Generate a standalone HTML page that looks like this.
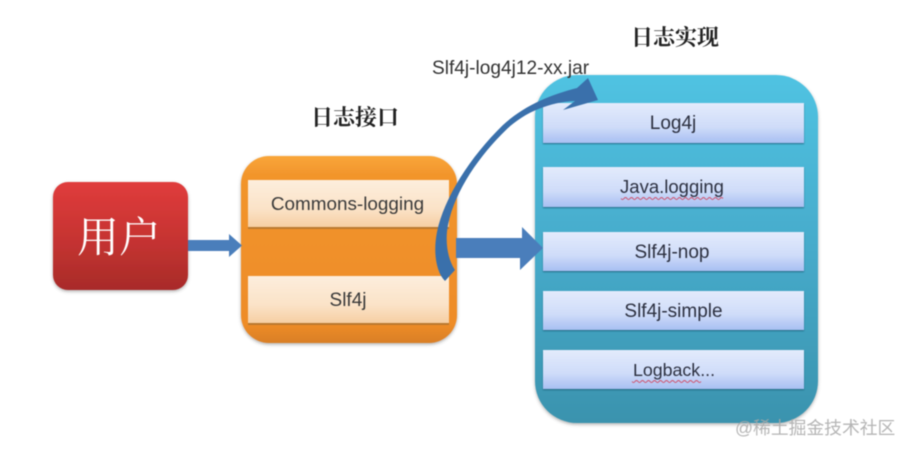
<!DOCTYPE html>
<html>
<head>
<meta charset="utf-8">
<style>
html,body{margin:0;padding:0;background:#fff}
body{width:911px;height:453px;overflow:hidden}
svg{display:block;filter:blur(.6px)}
text{font-family:"Liberation Sans","Noto Sans CJK SC",sans-serif}
text.s{font-family:"Liberation Serif","Noto Serif CJK SC",serif}
</style>
</head>
<body>
<svg width="911" height="453" viewBox="0 0 911 453" xmlns="http://www.w3.org/2000/svg">
<defs>
<linearGradient id="red" x1="0" y1="0" x2="0" y2="1"><stop offset="0" stop-color="#e03c3c"/><stop offset=".55" stop-color="#c53331"/><stop offset="1" stop-color="#a82b29"/></linearGradient>
<linearGradient id="org" x1="0" y1="0" x2="0" y2="1"><stop offset="0" stop-color="#f9a63a"/><stop offset=".1" stop-color="#f2952c"/><stop offset=".9" stop-color="#ee8c28"/><stop offset="1" stop-color="#d97f26"/></linearGradient>
<linearGradient id="teal" x1="0" y1="0" x2="0" y2="1"><stop offset="0" stop-color="#50c3e2"/><stop offset=".5" stop-color="#46abcb"/><stop offset="1" stop-color="#3a93ae"/></linearGradient>
<linearGradient id="peach" x1="0" y1="0" x2="0" y2="1"><stop offset="0" stop-color="#fdeedd"/><stop offset=".6" stop-color="#fbe3c8"/><stop offset="1" stop-color="#f6cfa3"/></linearGradient>
<linearGradient id="blue" x1="0" y1="0" x2="0" y2="1"><stop offset="0" stop-color="#e3ebfc"/><stop offset=".6" stop-color="#cfdcf9"/><stop offset="1" stop-color="#a8bff2"/></linearGradient>
<filter id="sh" x="-10%" y="-10%" width="120%" height="120%"><feDropShadow dx="0" dy="1.500" stdDeviation="1.500" flood-color="#555" flood-opacity=".45"/></filter>
<filter id="sh2" x="-5%" y="-10%" width="110%" height="125%"><feDropShadow dx="0" dy="1" stdDeviation=".7" flood-color="#1d5a73" flood-opacity=".8"/></filter>
</defs>

<!-- user box -->
<rect x="53" y="182" width="135" height="108" rx="15" fill="url(#red)" filter="url(#sh)"/>
<text class="s" x="119" y="252" font-size="42" fill="#fff" text-anchor="middle">用户</text>

<!-- interface box -->
<rect x="241" y="156" width="216" height="187" rx="28" fill="url(#org)" filter="url(#sh)"/>
<rect x="248" y="180" width="201" height="47" fill="url(#peach)"/>
<rect x="248" y="227" width="201" height="2" fill="#b9792f"/>
<rect x="248" y="276" width="201" height="47" fill="url(#peach)"/>
<rect x="248" y="323" width="201" height="2" fill="#b9792f"/>
<text x="347.500" y="210" font-size="18.900" fill="#3a3a3a" text-anchor="middle">Commons-logging</text>
<text x="348" y="306" font-size="19" fill="#3a3a3a" text-anchor="middle">Slf4j</text>

<!-- implementation box -->
<rect x="535" y="75" width="283" height="348" rx="42" fill="url(#teal)" filter="url(#sh)"/>
<g filter="url(#sh2)">
<rect x="543" y="103" width="261" height="40" fill="url(#blue)"/>
<rect x="543" y="167" width="261" height="40" fill="url(#blue)"/>
<rect x="543" y="232" width="261" height="39" fill="url(#blue)"/>
<rect x="543" y="291" width="261" height="39" fill="url(#blue)"/>
<rect x="543" y="350" width="261" height="39" fill="url(#blue)"/>
</g>
<g font-size="19" fill="#2c3040" text-anchor="middle">
<text x="673" y="129">Log4j</text>
<text x="672" y="193" font-size="18.500">Java.logging</text>
<text x="672" y="258">Slf4j-nop</text>
<text x="673.500" y="317">Slf4j-simple</text>
<text x="674" y="376" font-size="17.800">Logback...</text>
</g>
<path d="M621 198.500q1.500 2 3 0t3 0 3 0 3 0 3 0 3 0 3 0 3 0 3 0 3 0 3 0 3 0 3 0 3 0 3 0 3 0 3 0 3 0 3 0 3 0 3 0 3 0 3 0 3 0 3 0 3 0 3 0 3 0 3 0 3 0 3 0 3 0 3 0 3 0" fill="none" stroke="#d0506a" stroke-width="1"/>
<path d="M632 381.500q1.500 2 3 0t3 0 3 0 3 0 3 0 3 0 3 0 3 0 3 0 3 0 3 0 3 0 3 0 3 0 3 0 3 0 3 0 3 0 3 0 3 0 3 0 3 0 3 0" fill="none" stroke="#d0506a" stroke-width="1"/>

<!-- arrows -->
<path d="M188 240H229V234L242 245.500 229 257V251H188Z" fill="#4a7ebb"/>
<path d="M456 238H522V227L543 248 520 270V258H456Z" fill="#4a7ebb"/>
<path d="M445 281C436 272 433 252 437 232C444 198 470 157 503 125C525 105 550 95 577 88L588 78 598 100 563 110 575 101C550 102 525 112 507 129C480 155 455 190 448 225C445 240 447 258 455 270Z" fill="#3a70ab"/>

<!-- headings -->
<text class="s" x="355" y="125" font-size="22" font-weight="bold" fill="#222" text-anchor="middle">日志接口</text>
<text class="s" x="675" y="45" font-size="22" font-weight="bold" fill="#222" text-anchor="middle">日志实现</text>
<text x="432" y="74" font-size="19.100" fill="#333">Slf4j-log4j12-xx.jar</text>

<!-- watermark -->
<text x="735" y="434" font-size="17.800" fill="#a8a8a8" fill-opacity=".85">@稀土掘金技术社区</text>
</svg>
</body>
</html>
